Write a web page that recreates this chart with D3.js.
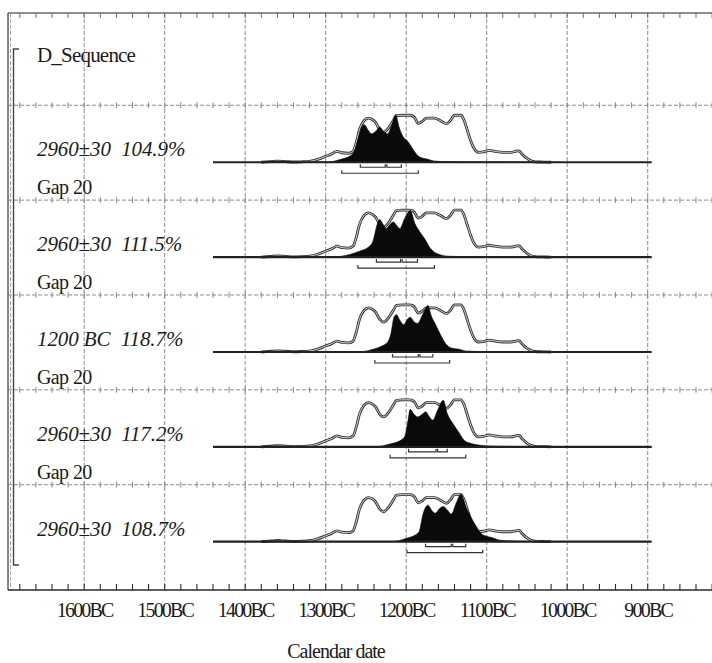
<!DOCTYPE html>
<html>
<head>
<meta charset="utf-8">
<script src="https://cdn.jsdelivr.net/npm/d3@7/dist/d3.min.js"></script>
<style>
  body { margin: 0; background: #fff; }
</style>
</head>
<body>
<svg id="chart" width="712" height="663"></svg>
<script>
// ---- data -----------------------------------------------------------
const axisYears  = [1600, 1500, 1400, 1300, 1200, 1100, 1000, 900];
const axisLabels = ["1600BC", "1500BC", "1400BC", "1300BC", "1200BC", "1100BC", "1000BC", "900BC"];
const sequenceName = "D_Sequence";
const rowLabels = ["2960\u00b130  104.9%", "2960\u00b130  111.5%", "1200 BC  118.7%", "2960\u00b130  117.2%", "2960\u00b130  108.7%"];
const gapLabel = "Gap 20";
const axisTitle = "Calendar date";

// unmodelled (prior) likelihood, shared by every row: [year BC, relative probability]
const priorCurve = [
  [1380,0],[1368,1.5],[1360,2.5],[1350,1.5],[1340,0.5],[1330,1],[1320,2],[1310,6],[1300,12.5],
  [1292,18],[1286,23],[1280,20],[1272,19],[1266,23],[1262,42],[1258,69],[1253,86],[1247,93],
  [1242,90],[1238,84],[1233,69],[1228,63],[1222,72],[1216,88],[1212,98],[1205,99],[1195,99],
  [1190,95],[1185,82],[1180,86],[1175,93],[1165,93],[1158,88],[1150,81],[1145,88],[1140,99],
  [1132,99],[1128,88],[1124,67],[1120,46],[1116,30],[1110,21],[1104,22],[1097,25],[1090,23],
  [1080,21],[1070,21],[1064,23],[1060,24],[1056,17],[1050,8],[1045,3],[1040,1],[1030,0.4],[1020,0]
];

// modelled (posterior) distributions, one per row
const posterior1 = [
  [1380,0],[1365,2],[1355,2],[1340,0.5],[1310,0.3],[1295,0.7],[1282,6],[1270,13],[1264,25],
  [1259,54],[1255,75],[1252,79],[1247,67],[1243,60],[1237,67],[1233,74],[1228,65],[1223,60],
  [1218,78],[1213,100],[1209,75],[1204,54],[1198,44],[1191,26],[1185,13],[1179,8.5],[1173,6.3],
  [1166,2.8],[1154,1.5],[1120,0.7],[1050,0.5],[1010,0]
];
const posterior2 = [
  [1380,0],[1365,2],[1350,1.5],[1330,0.3],[1291,0.5],[1270,5.7],[1258,12.6],[1247,21],[1241,35],
  [1236,69],[1233,79],[1228,67],[1225,60],[1220,69],[1216,74],[1212,67],[1208,60],[1202,81],
  [1195,98],[1189,70],[1183,53],[1177,38.5],[1171,21],[1165,10.5],[1159,5.7],[1148,2],
  [1120,0.8],[1050,0.5],[1010,0]
];
const posterior3 = [
  [1380,0],[1365,2],[1350,1.5],[1330,0.3],[1258,0.5],[1241,5.7],[1231,12],[1223,21],[1219,38.5],
  [1215,74],[1212,78.5],[1208,67],[1203,57.5],[1198,70],[1195,73],[1190,63],[1186,60],[1179,81],
  [1173,98],[1169,77],[1163,56],[1157,35],[1151,17.5],[1144,8.4],[1134,5.7],[1126,2],
  [1100,0.8],[1050,0.5],[1010,0]
];
const posterior4 = [
  [1380,0],[1365,2],[1350,1.5],[1330,0.3],[1237,0.5],[1221,5.7],[1208,12.6],[1202,21],[1198,52.6],
  [1195,79],[1191,70],[1186,63],[1179,70],[1176,74],[1171,63],[1167,56],[1161,77],[1154,98],
  [1149,70],[1142,49],[1135,31.5],[1128,14],[1122,8.4],[1114,4.8],[1101,2],[1080,1],
  [1050,0.5],[1010,0]
];
const posterior5 = [
  [1380,0],[1365,2],[1350,1.5],[1330,0.3],[1216,0.5],[1200,7],[1190,13],[1184,21],[1179,59],
  [1173,77],[1168,65],[1164,60],[1159,69],[1154,74],[1149,67],[1144,58],[1138,81],[1132,100],
  [1126,74],[1120,53],[1114,35],[1107,17.5],[1101,12],[1093,8.4],[1085,3.6],[1070,1.5],
  [1050,0.6],[1010,0]
];
const posteriors = [posterior1, posterior2, posterior3, posterior4, posterior5];

// highest posterior density ranges (years BC)
const range68 = [
  [[1257,1226],[1224,1206]],
  [[1237,1207],[1205,1186]],
  [[1217,1185],[1183,1167]],
  [[1197,1163],[1161,1149]],
  [[1176,1144],[1142,1126]]
];
const range95 = [[1280,1185],[1260,1165],[1239,1146],[1220,1126],[1199,1105]];

// extent of each row's baseline (years BC)
const baselineSpan = [1440, 895];

// ---- layout ---------------------------------------------------------
const FONT = "'Liberation Serif', 'Times New Roman', Times, serif";
const INK = "#1b1b1b";
const frame = { left: 8, top: 13, right: 712, bottom: 590 };
const svg = d3.select("#chart");

const x = d3.scaleLinear().domain([1600, 900]).range([84.2, 647.7]);
// row 0 holds the sequence name, rows 1..5 the dated items
const rowBase = d3.scaleLinear().domain([0, 5]).range([67.4, 541.7]);
const h = d3.scaleLinear().domain([0, 100]).range([0, 47.5]);

const minorYears = d3.range(1680, 700, -20).filter(t => x(t) > frame.left);

function styleText(sel, size, spacing, italic) {
  return sel.style("font-family", FONT).style("font-size", size + "px")
    .style("letter-spacing", spacing + "px")
    .style("font-style", italic ? "italic" : "normal")
    .attr("fill", INK);
}

// ---- grid -----------------------------------------------------------
const grid = svg.append("g");
grid.selectAll("line.v").data(axisYears).join("line")
  .attr("x1", d => x(d)).attr("x2", d => x(d))
  .attr("y1", frame.top).attr("y2", frame.bottom)
  .attr("stroke", "#8c8c8c").attr("stroke-width", 1).attr("stroke-dasharray", "4,2");

const hLines = d3.range(1, 6).map(i => rowBase(i) - 57);
grid.selectAll("line.h").data(hLines).join("line")
  .attr("x1", frame.left).attr("x2", frame.right)
  .attr("y1", d => d).attr("y2", d => d)
  .attr("stroke", "#8c8c8c").attr("stroke-width", 1).attr("stroke-dasharray", "4,2");

hLines.forEach(yy => {
  grid.append("g").selectAll("line").data(minorYears).join("line")
    .attr("x1", d => x(d)).attr("x2", d => x(d))
    .attr("y1", yy - 3).attr("y2", yy + 3)
    .attr("stroke", "#8c8c8c").attr("stroke-width", 1);
});

// frame: top edge with inward ticks, doubled left edge
svg.append("line").attr("x1", frame.left).attr("x2", frame.right)
  .attr("y1", frame.top).attr("y2", frame.top)
  .attr("stroke", "#6a6a6a").attr("stroke-width", 1.3);
svg.append("g").selectAll("line").data(minorYears).join("line")
  .attr("x1", d => x(d)).attr("x2", d => x(d))
  .attr("y1", frame.top).attr("y2", frame.top + 5)
  .attr("stroke", "#6a6a6a").attr("stroke-width", 1);
svg.append("line").attr("x1", frame.left).attr("x2", frame.left)
  .attr("y1", frame.top).attr("y2", frame.bottom)
  .attr("stroke", "#555").attr("stroke-width", 1.4);
svg.append("line").attr("x1", frame.left + 2.5).attr("x2", frame.left + 2.5)
  .attr("y1", frame.top).attr("y2", frame.bottom)
  .attr("stroke", "#9a9a9a").attr("stroke-width", 0.9).attr("stroke-dasharray", "4,2");

// sequence bracket
svg.append("path")
  .attr("d", "M19,49 H13.5 V565 H19")
  .attr("fill", "none").attr("stroke", "#444").attr("stroke-width", 1.4);

// ---- bottom axis ----------------------------------------------------
const xAxis = d3.axisBottom(x).tickValues(axisYears)
  .tickFormat((d, i) => axisLabels[i]).tickSize(0).tickPadding(0);
const axisG = svg.append("g").attr("transform", `translate(0,${frame.bottom})`).call(xAxis);
axisG.attr("font-family", null).attr("font-size", null);
axisG.select(".domain").remove();
styleText(axisG.selectAll("text").attr("y", 27).attr("dy", 0), 20, -1.8, false);

svg.append("line").attr("x1", frame.left).attr("x2", frame.right)
  .attr("y1", frame.bottom).attr("y2", frame.bottom)
  .attr("stroke", "#2a2a2a").attr("stroke-width", 1.6);
svg.append("g").selectAll("line").data(minorYears).join("line")
  .attr("x1", d => x(d)).attr("x2", d => x(d))
  .attr("y1", frame.bottom - 6).attr("y2", frame.bottom)
  .attr("stroke", "#2a2a2a").attr("stroke-width", 1.1);

styleText(svg.append("text").attr("x", 336).attr("y", 658).attr("text-anchor", "middle"), 20, -1, false)
  .text(axisTitle);

// ---- labels ---------------------------------------------------------
styleText(svg.append("text").attr("x", 37).attr("y", rowBase(0) - 5), 21, -0.8, false)
  .text(sequenceName);

styleText(svg.append("g").selectAll("text").data(rowLabels).join("text")
  .attr("x", 37).attr("y", (d, i) => rowBase(i + 1) - 6)
  .attr("xml:space", "preserve").style("white-space", "pre"), 21, -0.1, true)
  .text(d => d);

styleText(svg.append("g").selectAll("text").data(d3.range(1, 5)).join("text")
  .attr("x", 37).attr("y", i => rowBase(i) + 32), 20, -0.6, false)
  .text(gapLabel);

// ---- distributions --------------------------------------------------
posteriors.forEach((post, k) => {
  const base = rowBase(k + 1);
  const g = svg.append("g");

  const priorLine = d3.line().x(d => x(d[0])).y(d => base - h(d[1])).curve(d3.curveMonotoneX);
  g.append("path").datum(priorCurve).attr("d", priorLine)
    .attr("fill", "none").attr("stroke", "#333").attr("stroke-width", 2.8).attr("stroke-linejoin", "round");
  g.append("path").datum(priorCurve).attr("d", priorLine)
    .attr("fill", "none").attr("stroke", "#ffffff").attr("stroke-width", 0.8).attr("stroke-linejoin", "round");

  const area = d3.area().x(d => x(d[0])).y0(base).y1(d => base - h(d[1])).curve(d3.curveMonotoneX);
  g.append("path").datum(post).attr("d", area).attr("fill", "#0a0a0a")
    .attr("stroke", "#0a0a0a").attr("stroke-width", 0.6);

  g.append("line")
    .attr("x1", x(baselineSpan[0])).attr("x2", x(baselineSpan[1]))
    .attr("y1", base).attr("y2", base)
    .attr("stroke", "#222").attr("stroke-width", 2.2);

  const bracket = (r, yy) => `M${x(r[0])},${yy - 3} V${yy} H${x(r[1])} V${yy - 3}`;
  g.selectAll("path.r68").data(range68[k]).join("path")
    .attr("d", r => bracket(r, base + 5))
    .attr("fill", "none").attr("stroke", "#333").attr("stroke-width", 1.2);
  g.append("path").attr("d", bracket(range95[k], base + 11))
    .attr("fill", "none").attr("stroke", "#333").attr("stroke-width", 1.2);
});
</script>
</body>
</html>
